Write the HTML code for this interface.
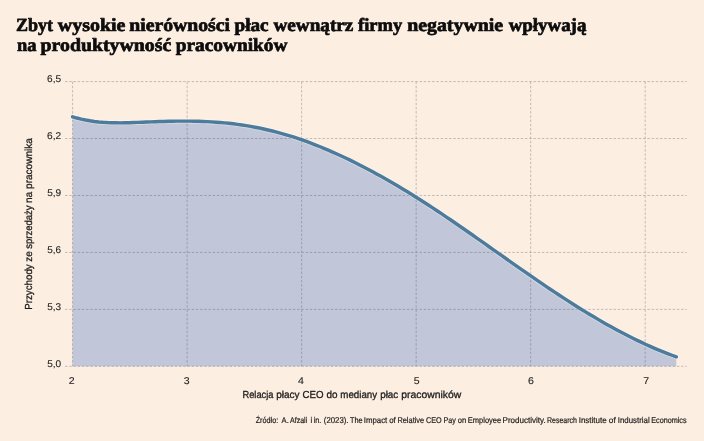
<!DOCTYPE html>
<html lang="pl">
<head>
<meta charset="utf-8">
<title>Zbyt wysokie nierówności płac wewnątrz firmy negatywnie wpływają na produktywność pracowników</title>
<style>
html,body{margin:0;padding:0;background:#fdeee2;}
body{width:704px;height:441px;overflow:hidden;}
svg{display:block;}
text{text-rendering:geometricPrecision;}
</style>
</head>
<body>
<svg width="704" height="441" viewBox="0 0 704 441">
<rect width="704" height="441" fill="#fdeee2"/>
<path d="M72.6,116.81 L76.9,118.04 L81.3,119.11 L85.6,120.03 L90.0,120.80 L94.3,121.44 L98.7,121.94 L103.0,122.32 L107.3,122.59 L111.7,122.76 L116.0,122.84 L120.4,122.85 L124.7,122.79 L129.1,122.69 L133.4,122.55 L137.7,122.39 L142.1,122.22 L146.4,122.04 L150.8,121.87 L155.1,121.70 L159.5,121.55 L163.8,121.41 L168.1,121.30 L172.5,121.21 L176.8,121.14 L181.2,121.10 L185.5,121.10 L189.9,121.13 L194.2,121.19 L198.6,121.30 L202.9,121.45 L207.2,121.64 L211.6,121.88 L215.9,122.16 L220.3,122.50 L224.6,122.89 L229.0,123.33 L233.3,123.82 L237.6,124.38 L242.0,124.99 L246.3,125.66 L250.7,126.39 L255.0,127.19 L259.4,128.05 L263.7,128.97 L268.0,129.95 L272.4,131.00 L276.7,132.12 L281.1,133.30 L285.4,134.54 L289.8,135.85 L294.1,137.23 L298.4,138.67 L302.8,140.16 L307.1,141.73 L311.5,143.35 L315.8,145.03 L320.2,146.76 L324.5,148.55 L328.8,150.40 L333.2,152.30 L337.5,154.25 L341.9,156.25 L346.2,158.30 L350.6,160.39 L354.9,162.54 L359.2,164.73 L363.6,166.96 L367.9,169.24 L372.3,171.56 L376.6,173.92 L381.0,176.33 L385.3,178.77 L389.7,181.26 L394.0,183.79 L398.3,186.35 L402.7,188.95 L407.0,191.59 L411.4,194.27 L415.7,196.98 L420.1,199.72 L424.4,202.50 L428.7,205.31 L433.1,208.15 L437.4,211.02 L441.8,213.91 L446.1,216.83 L450.5,219.77 L454.8,222.74 L459.1,225.72 L463.5,228.72 L467.8,231.74 L472.2,234.77 L476.5,237.81 L480.9,240.86 L485.2,243.92 L489.5,246.99 L493.9,250.05 L498.2,253.12 L502.6,256.19 L506.9,259.25 L511.3,262.31 L515.6,265.35 L519.9,268.39 L524.3,271.42 L528.6,274.44 L533.0,277.44 L537.3,280.42 L541.7,283.39 L546.0,286.33 L550.3,289.25 L554.7,292.14 L559.0,295.01 L563.4,297.86 L567.7,300.67 L572.1,303.45 L576.4,306.20 L580.8,308.91 L585.1,311.59 L589.4,314.23 L593.8,316.83 L598.1,319.39 L602.5,321.91 L606.8,324.39 L611.2,326.82 L615.5,329.20 L619.8,331.53 L624.2,333.82 L628.5,336.05 L632.9,338.23 L637.2,340.36 L641.6,342.43 L645.9,344.45 L650.2,346.40 L654.6,348.30 L658.9,350.13 L663.3,351.90 L667.6,353.61 L672.0,355.25 L676.3,356.82 L676.3,366.3 L72.6,366.3 Z" fill="#c1c7d8"/>
<g stroke="#3c4050" stroke-width="0.6" stroke-dasharray="2.5 1.72" fill="none" opacity="0.5">
<line x1="65.0" y1="81.60" x2="686.8" y2="81.60"/>
<line x1="65.0" y1="138.54" x2="686.8" y2="138.54"/>
<line x1="65.0" y1="195.48" x2="686.8" y2="195.48"/>
<line x1="65.0" y1="252.42" x2="686.8" y2="252.42"/>
<line x1="65.0" y1="309.36" x2="686.8" y2="309.36"/>
<line x1="65.0" y1="366.30" x2="686.8" y2="366.30"/>
<line x1="72.60" y1="81.60" x2="72.60" y2="366.30"/>
<line x1="187.12" y1="81.60" x2="187.12" y2="366.30"/>
<line x1="301.64" y1="81.60" x2="301.64" y2="366.30"/>
<line x1="416.16" y1="81.60" x2="416.16" y2="366.30"/>
<line x1="530.68" y1="81.60" x2="530.68" y2="366.30"/>
<line x1="645.20" y1="81.60" x2="645.20" y2="366.30"/>
</g>
<path d="M72.6,116.81 L76.9,118.04 L81.3,119.11 L85.6,120.03 L90.0,120.80 L94.3,121.44 L98.7,121.94 L103.0,122.32 L107.3,122.59 L111.7,122.76 L116.0,122.84 L120.4,122.85 L124.7,122.79 L129.1,122.69 L133.4,122.55 L137.7,122.39 L142.1,122.22 L146.4,122.04 L150.8,121.87 L155.1,121.70 L159.5,121.55 L163.8,121.41 L168.1,121.30 L172.5,121.21 L176.8,121.14 L181.2,121.10 L185.5,121.10 L189.9,121.13 L194.2,121.19 L198.6,121.30 L202.9,121.45 L207.2,121.64 L211.6,121.88 L215.9,122.16 L220.3,122.50 L224.6,122.89 L229.0,123.33 L233.3,123.82 L237.6,124.38 L242.0,124.99 L246.3,125.66 L250.7,126.39 L255.0,127.19 L259.4,128.05 L263.7,128.97 L268.0,129.95 L272.4,131.00 L276.7,132.12 L281.1,133.30 L285.4,134.54 L289.8,135.85 L294.1,137.23 L298.4,138.67 L302.8,140.16 L307.1,141.73 L311.5,143.35 L315.8,145.03 L320.2,146.76 L324.5,148.55 L328.8,150.40 L333.2,152.30 L337.5,154.25 L341.9,156.25 L346.2,158.30 L350.6,160.39 L354.9,162.54 L359.2,164.73 L363.6,166.96 L367.9,169.24 L372.3,171.56 L376.6,173.92 L381.0,176.33 L385.3,178.77 L389.7,181.26 L394.0,183.79 L398.3,186.35 L402.7,188.95 L407.0,191.59 L411.4,194.27 L415.7,196.98 L420.1,199.72 L424.4,202.50 L428.7,205.31 L433.1,208.15 L437.4,211.02 L441.8,213.91 L446.1,216.83 L450.5,219.77 L454.8,222.74 L459.1,225.72 L463.5,228.72 L467.8,231.74 L472.2,234.77 L476.5,237.81 L480.9,240.86 L485.2,243.92 L489.5,246.99 L493.9,250.05 L498.2,253.12 L502.6,256.19 L506.9,259.25 L511.3,262.31 L515.6,265.35 L519.9,268.39 L524.3,271.42 L528.6,274.44 L533.0,277.44 L537.3,280.42 L541.7,283.39 L546.0,286.33 L550.3,289.25 L554.7,292.14 L559.0,295.01 L563.4,297.86 L567.7,300.67 L572.1,303.45 L576.4,306.20 L580.8,308.91 L585.1,311.59 L589.4,314.23 L593.8,316.83 L598.1,319.39 L602.5,321.91 L606.8,324.39 L611.2,326.82 L615.5,329.20 L619.8,331.53 L624.2,333.82 L628.5,336.05 L632.9,338.23 L637.2,340.36 L641.6,342.43 L645.9,344.45 L650.2,346.40 L654.6,348.30 L658.9,350.13 L663.3,351.90 L667.6,353.61 L672.0,355.25 L676.3,356.82" fill="none" stroke="#ffffff" stroke-opacity="0.38" stroke-width="5.0" stroke-linecap="round" stroke-linejoin="round"/>
<path d="M72.6,116.81 L76.9,118.04 L81.3,119.11 L85.6,120.03 L90.0,120.80 L94.3,121.44 L98.7,121.94 L103.0,122.32 L107.3,122.59 L111.7,122.76 L116.0,122.84 L120.4,122.85 L124.7,122.79 L129.1,122.69 L133.4,122.55 L137.7,122.39 L142.1,122.22 L146.4,122.04 L150.8,121.87 L155.1,121.70 L159.5,121.55 L163.8,121.41 L168.1,121.30 L172.5,121.21 L176.8,121.14 L181.2,121.10 L185.5,121.10 L189.9,121.13 L194.2,121.19 L198.6,121.30 L202.9,121.45 L207.2,121.64 L211.6,121.88 L215.9,122.16 L220.3,122.50 L224.6,122.89 L229.0,123.33 L233.3,123.82 L237.6,124.38 L242.0,124.99 L246.3,125.66 L250.7,126.39 L255.0,127.19 L259.4,128.05 L263.7,128.97 L268.0,129.95 L272.4,131.00 L276.7,132.12 L281.1,133.30 L285.4,134.54 L289.8,135.85 L294.1,137.23 L298.4,138.67 L302.8,140.16 L307.1,141.73 L311.5,143.35 L315.8,145.03 L320.2,146.76 L324.5,148.55 L328.8,150.40 L333.2,152.30 L337.5,154.25 L341.9,156.25 L346.2,158.30 L350.6,160.39 L354.9,162.54 L359.2,164.73 L363.6,166.96 L367.9,169.24 L372.3,171.56 L376.6,173.92 L381.0,176.33 L385.3,178.77 L389.7,181.26 L394.0,183.79 L398.3,186.35 L402.7,188.95 L407.0,191.59 L411.4,194.27 L415.7,196.98 L420.1,199.72 L424.4,202.50 L428.7,205.31 L433.1,208.15 L437.4,211.02 L441.8,213.91 L446.1,216.83 L450.5,219.77 L454.8,222.74 L459.1,225.72 L463.5,228.72 L467.8,231.74 L472.2,234.77 L476.5,237.81 L480.9,240.86 L485.2,243.92 L489.5,246.99 L493.9,250.05 L498.2,253.12 L502.6,256.19 L506.9,259.25 L511.3,262.31 L515.6,265.35 L519.9,268.39 L524.3,271.42 L528.6,274.44 L533.0,277.44 L537.3,280.42 L541.7,283.39 L546.0,286.33 L550.3,289.25 L554.7,292.14 L559.0,295.01 L563.4,297.86 L567.7,300.67 L572.1,303.45 L576.4,306.20 L580.8,308.91 L585.1,311.59 L589.4,314.23 L593.8,316.83 L598.1,319.39 L602.5,321.91 L606.8,324.39 L611.2,326.82 L615.5,329.20 L619.8,331.53 L624.2,333.82 L628.5,336.05 L632.9,338.23 L637.2,340.36 L641.6,342.43 L645.9,344.45 L650.2,346.40 L654.6,348.30 L658.9,350.13 L663.3,351.90 L667.6,353.61 L672.0,355.25 L676.3,356.82" fill="none" stroke="#4c7b9c" stroke-width="3.45" stroke-linecap="round" stroke-linejoin="round"/>
<g font-family="'Liberation Sans', Arial, sans-serif" fill="#1d1d1b" stroke="#1d1d1b" stroke-width="0.1" stroke-linejoin="round" font-size="9.8">
<text y="81.80"><tspan x="47.09" textLength="14.07" lengthAdjust="spacingAndGlyphs">6,5</tspan></text>
<text y="138.74"><tspan x="47.09" textLength="14.18" lengthAdjust="spacingAndGlyphs">6,2</tspan></text>
<text y="195.68"><tspan x="47.20" textLength="14.07" lengthAdjust="spacingAndGlyphs">5,9</tspan></text>
<text y="252.62"><tspan x="47.20" textLength="13.97" lengthAdjust="spacingAndGlyphs">5,6</tspan></text>
<text y="309.56"><tspan x="47.20" textLength="13.97" lengthAdjust="spacingAndGlyphs">5,3</tspan></text>
<text y="366.50"><tspan x="47.20" textLength="13.97" lengthAdjust="spacingAndGlyphs">5,0</tspan></text>
<text y="384.0"><tspan x="68.79" textLength="5.89" lengthAdjust="spacingAndGlyphs">2</tspan></text>
<text y="384.0"><tspan x="183.69" textLength="5.89" lengthAdjust="spacingAndGlyphs">3</tspan></text>
<text y="384.0"><tspan x="298.14" textLength="5.89" lengthAdjust="spacingAndGlyphs">4</tspan></text>
<text y="384.0"><tspan x="413.74" textLength="5.89" lengthAdjust="spacingAndGlyphs">5</tspan></text>
<text y="384.0"><tspan x="528.13" textLength="5.89" lengthAdjust="spacingAndGlyphs">6</tspan></text>
<text y="384.0"><tspan x="643.29" textLength="5.89" lengthAdjust="spacingAndGlyphs">7</tspan></text>
</g>
<g font-family="'Liberation Sans', Arial, sans-serif" fill="#1d1d1b" stroke="#1d1d1b" stroke-width="0.3" stroke-linejoin="round">
<text y="397.7" font-size="10.2"><tspan x="242.46" textLength="31.01" lengthAdjust="spacingAndGlyphs">Relacja</tspan> <tspan x="276.30" textLength="23.30" lengthAdjust="spacingAndGlyphs">płacy</tspan> <tspan x="302.51" textLength="21.05" lengthAdjust="spacingAndGlyphs">CEO</tspan> <tspan x="326.40" textLength="11.06" lengthAdjust="spacingAndGlyphs">do</tspan> <tspan x="340.32" textLength="36.78" lengthAdjust="spacingAndGlyphs">mediany</tspan> <tspan x="380.21" textLength="18.09" lengthAdjust="spacingAndGlyphs">płac</tspan> <tspan x="401.28" textLength="59.94" lengthAdjust="spacingAndGlyphs">pracowników</tspan></text>
<text transform="translate(32.3 309.0) rotate(-90)" font-size="10.2"><tspan x="-0.78" textLength="45.48" lengthAdjust="spacingAndGlyphs">Przychody</tspan> <tspan x="47.20" textLength="10.45" lengthAdjust="spacingAndGlyphs">ze</tspan> <tspan x="60.21" textLength="43.39" lengthAdjust="spacingAndGlyphs">sprzedaży</tspan> <tspan x="105.99" textLength="11.27" lengthAdjust="spacingAndGlyphs">na</tspan> <tspan x="120.10" textLength="50.76" lengthAdjust="spacingAndGlyphs">pracownika</tspan></text>
<text y="422.8" font-size="8.4" stroke-width="0.2"><tspan x="255.68" textLength="22.55" lengthAdjust="spacingAndGlyphs">Źródło:</tspan> <tspan x="281.60" textLength="7.17" lengthAdjust="spacingAndGlyphs">A.</tspan> <tspan x="290.00" textLength="17.24" lengthAdjust="spacingAndGlyphs">Afzali</tspan> <tspan x="310.47" textLength="1.68" lengthAdjust="spacingAndGlyphs">i</tspan> <tspan x="313.77" textLength="7.56" lengthAdjust="spacingAndGlyphs">in.</tspan> <tspan x="323.83" textLength="24.65" lengthAdjust="spacingAndGlyphs">(2023).</tspan> <tspan x="349.95" textLength="12.61" lengthAdjust="spacingAndGlyphs">The</tspan> <tspan x="363.80" textLength="23.49" lengthAdjust="spacingAndGlyphs">Impact</tspan> <tspan x="389.18" textLength="6.60" lengthAdjust="spacingAndGlyphs">of</tspan> <tspan x="397.41" textLength="26.76" lengthAdjust="spacingAndGlyphs">Relative</tspan> <tspan x="426.04" textLength="15.71" lengthAdjust="spacingAndGlyphs">CEO</tspan> <tspan x="443.43" textLength="12.27" lengthAdjust="spacingAndGlyphs">Pay</tspan> <tspan x="457.70" textLength="8.43" lengthAdjust="spacingAndGlyphs">on</tspan> <tspan x="467.80" textLength="33.37" lengthAdjust="spacingAndGlyphs">Employee</tspan> <tspan x="502.56" textLength="43.15" lengthAdjust="spacingAndGlyphs">Productivity.</tspan> <tspan x="547.04" textLength="29.95" lengthAdjust="spacingAndGlyphs">Research</tspan> <tspan x="578.68" textLength="28.01" lengthAdjust="spacingAndGlyphs">Institute</tspan> <tspan x="608.81" textLength="6.93" lengthAdjust="spacingAndGlyphs">of</tspan> <tspan x="617.79" textLength="31.90" lengthAdjust="spacingAndGlyphs">Industrial</tspan> <tspan x="651.22" textLength="35.40" lengthAdjust="spacingAndGlyphs">Economics</tspan></text>
</g>
<g font-family="'Liberation Serif', 'Times New Roman', serif" font-weight="bold" fill="#0d0d0d" stroke="#0d0d0d" stroke-width="0.7" stroke-linejoin="round" font-size="18.5">
<text y="30.9"><tspan x="15.88" textLength="37.02" lengthAdjust="spacingAndGlyphs">Zbyt</tspan> <tspan x="57.85" textLength="67.58" lengthAdjust="spacingAndGlyphs">wysokie</tspan> <tspan x="129.26" textLength="100.65" lengthAdjust="spacingAndGlyphs">nierówności</tspan> <tspan x="234.56" textLength="34.05" lengthAdjust="spacingAndGlyphs">płac</tspan> <tspan x="273.45" textLength="79.87" lengthAdjust="spacingAndGlyphs">wewnątrz</tspan> <tspan x="358.05" textLength="44.20" lengthAdjust="spacingAndGlyphs">firmy</tspan> <tspan x="407.15" textLength="95.97" lengthAdjust="spacingAndGlyphs">negatywnie</tspan> <tspan x="508.65" textLength="77.69" lengthAdjust="spacingAndGlyphs">wpływają</tspan></text>
<text y="51.4"><tspan x="17.03" textLength="19.50" lengthAdjust="spacingAndGlyphs">na</tspan> <tspan x="40.60" textLength="130.62" lengthAdjust="spacingAndGlyphs">produktywność</tspan> <tspan x="175.66" textLength="111.74" lengthAdjust="spacingAndGlyphs">pracowników</tspan></text>
</g>
</svg>
</body>
</html>
